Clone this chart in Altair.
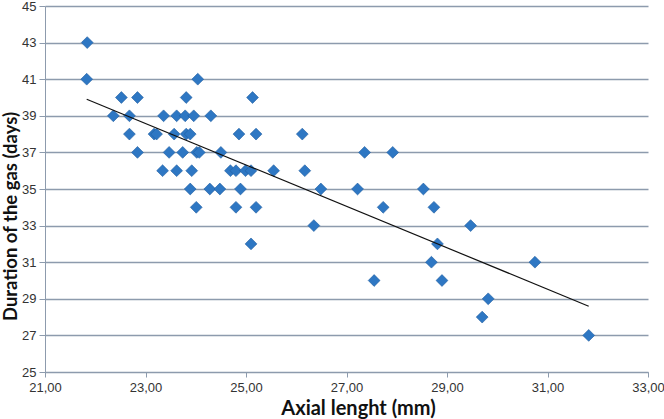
import altair as alt
import pandas as pd

# Axial length (mm) and gas duration (days), one entry per eye
axial_length = [
    21.84,
    21.83, 24.04,
    22.52, 22.84, 23.81, 25.13,
    22.36, 22.68, 23.36, 23.62, 23.79, 23.96, 24.30,
    22.68, 23.17, 23.22, 23.57, 23.81, 23.89, 24.86, 25.20, 26.12,
    22.84, 23.47, 23.74, 24.02, 24.07, 24.50, 27.36, 27.92,
    23.34, 23.62, 23.92, 24.69, 24.80, 24.99, 25.10, 25.55, 26.17,
    23.89, 24.28, 24.48, 24.89, 26.49, 27.22, 28.53,
    24.01, 24.80, 25.20, 27.73, 28.74,
    26.35, 29.47,
    25.10, 28.81,
    28.69, 30.75,
    27.55, 28.90,
    29.82,
    29.70,
    31.82,
]
gas_days = (
    [43]
    + [41] * 2
    + [40] * 4
    + [39] * 7
    + [38] * 9
    + [37] * 8
    + [36] * 9
    + [35] * 7
    + [34] * 5
    + [33] * 2
    + [32] * 2
    + [31] * 2
    + [30] * 2
    + [29]
    + [28]
    + [27]
)

x_ticks = [21, 23, 25, 27, 29, 31, 33]
y_ticks = [25, 27, 29, 31, 33, 35, 37, 39, 41, 43, 45]

df = pd.DataFrame({"axial": axial_length, "days": gas_days})

label_font = "Liberation Sans"
title_font = "Lato"
grid_col = "#8D9BAD"

x_enc = alt.X(
    "axial:Q",
    scale=alt.Scale(domain=[21, 33], nice=False, zero=False),
    axis=alt.Axis(
        title="Axial lenght (mm)",
        values=x_ticks,
        labelExpr="replace(format(datum.value, '.2f'), '.', ',')",
        labelOverlap=False,
        labelFlush=False,
        labelBound=False,
        grid=False,
        domainColor=grid_col,
        tickColor=grid_col,
        tickSize=5,
        labelPadding=4,
        labelFont=label_font,
        labelFontSize=13,
        labelColor="#333333",
        titleFont=title_font,
        titleFontSize=20,
        titleFontWeight="bold",
        titleColor="#111111",
        titleX=313,
        titleY=36,
        titleBaseline="middle",
        titleAlign="center",
    ),
)
y_enc = alt.Y(
    "days:Q",
    scale=alt.Scale(domain=[25, 45], nice=False, zero=False),
    axis=alt.Axis(
        title="Duration of the gas (days)",
        values=y_ticks,
        tickCount=11,
        labelOverlap=False,
        labelFlush=False,
        labelBound=False,
        grid=True,
        gridColor=grid_col,
        gridWidth=1.3,
        gridOpacity=1,
        domainColor=grid_col,
        tickColor=grid_col,
        tickSize=6,
        labelPadding=3,
        labelFont=label_font,
        labelFontSize=13,
        labelColor="#333333",
        titleFont=title_font,
        titleFontSize=18.5,
        titleFontWeight="bold",
        titleColor="#111111",
        titleAngle=270,
        titleX=-35,
        titleY=210,
        titleBaseline="middle",
        titleAlign="center",
    ),
)

points = alt.Chart(df).mark_point(
    shape="diamond",
    filled=True,
    size=140,
    color="#2E77C3",
    stroke="#1E5C9F",
    strokeWidth=0.6,
    opacity=1,
).encode(x=x_enc, y=y_enc)

trend = (
    alt.Chart(df)
    .transform_regression("axial", "days")
    .mark_line(color="#111111", strokeWidth=1.2)
    .encode(x=x_enc, y=y_enc)
)

chart = (
    alt.layer(points, trend)
    .properties(
        width=603,
        height=366,
        autosize=alt.AutoSizeParams(type="none"),
        padding={"left": 45, "top": 6, "right": 16, "bottom": 47},
        background="white",
    )
    .configure_view(stroke=None)
)

chart.save("out.html", embed_options={"renderer": "svg", "actions": False})
